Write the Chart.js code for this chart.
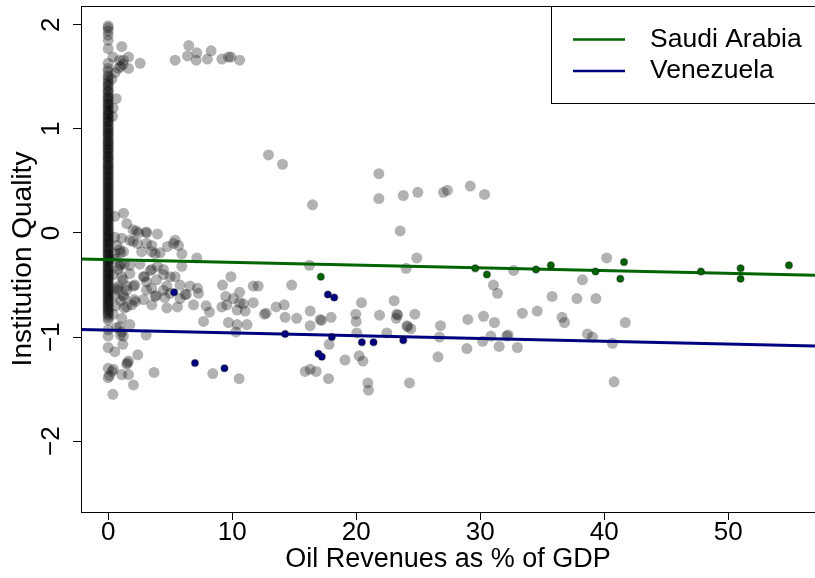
<!DOCTYPE html>
<html lang="en">
<head>
    <meta charset="UTF-8">
    <title>Institution Quality vs Oil Revenues</title>
    <script src="https://cdn.jsdelivr.net/npm/chart.js"></script>
    <style>
        html, body { margin: 0; padding: 0; background: #fff; }
        #wrap { width: 815px; height: 578px; }
    </style>
</head>
<body>
<div id="wrap"><canvas id="oilChart" width="815" height="578"></canvas></div>
<script>
    // axis limits and ticks
    const X_MIN = -2.19, X_MAX = 57.0;
    const Y_MIN = -2.68, Y_MAX = 2.18;
    const xTicks = [0, 10, 20, 30, 40, 50];
    const yTicks = [-2, -1, 0, 1, 2];

    // highlighted countries
    const countries = ['Saudi Arabia', 'Venezuela'];
    const countryColors = ['#006400', '#000080'];
    const saudiX = [17.15, 29.6, 30.54, 34.5, 35.7, 39.3, 41.6, 41.3, 47.8, 51.0, 51.0, 54.9];
    const saudiY = [-0.42, -0.34, -0.40, -0.35, -0.31, -0.37, -0.28, -0.44, -0.37, -0.34, -0.44, -0.31];
    const venezuelaX = [5.32, 7.0, 9.38, 14.27, 16.96, 17.23, 17.72, 18.23, 18.04, 20.46, 21.4, 23.8];
    const venezuelaY = [-0.57, -1.25, -1.30, -0.97, -1.16, -1.19, -0.59, -0.62, -1.0, -1.05, -1.05, -1.03];

    // fitted lines (common slope, country intercepts)
    const fitSlope = -0.00265;
    const fitIntercepts = [-0.255, -0.934];

    // countries with no oil revenue (x = 0)
    const zeroOilQuality = [
        1.99, 1.97, 1.94, 1.90, 1.85, 1.77, 1.63, 1.58, 1.55, 1.51, 1.49,
        1.462, 1.441, 1.418, 1.405, 1.377, 1.362, 1.349, 1.318, 1.306, 1.291, 1.274, 1.250,
        1.239, 1.221, 1.208, 1.183, 1.176, 1.152, 1.139, 1.127, 1.104, 1.093, 1.071, 1.066,
        1.042, 1.028, 1.011, 0.994, 0.982, 0.961, 0.947, 0.938, 0.915, 0.902, 0.884, 0.871,
        0.853, 0.846, 0.822, 0.811, 0.797, 0.776, 0.768, 0.743, 0.731, 0.719, 0.702, 0.688,
        0.667, 0.652, 0.641, 0.623, 0.610, 0.594, 0.582, 0.561, 0.548, 0.537, 0.516, 0.503,
        0.489, 0.472, 0.458, 0.443, 0.431, 0.412, 0.398, 0.387, 0.366, 0.352, 0.341, 0.322,
        0.307, 0.296, 0.278, 0.263, 0.249, 0.236, 0.218, 0.204, 0.193, 0.177, 0.158, 0.146,
        0.131, 0.117, 0.102, 0.089, 0.071, 0.058, 0.046, 0.027, 0.016, 0.003, -0.012, -0.029,
        -0.041, -0.055, -0.072, -0.086, -0.098, -0.114, -0.131, -0.143, -0.158, -0.171, -0.189,
        -0.202, -0.215, -0.233, -0.247, -0.259, -0.276, -0.288, -0.304, -0.317, -0.332, -0.346,
        -0.361, -0.378, -0.389, -0.405, -0.419, -0.433, -0.447, -0.462, -0.476, -0.491, -0.503,
        -0.518, -0.534, -0.547, -0.561, -0.577, -0.589, -0.604, -0.618, -0.633, -0.646, -0.662,
        -0.677, -0.691, -0.706, -0.722, -0.738, -0.755, -0.771, -0.79, -0.812, -0.838,
        -0.93, -0.99, -1.10, -1.30, -1.39
    ];

    // all other country-years [oil revenue %, institution quality]
    const otherPoints = [
        [0.38, 1.69], [0.91, 1.66], [1.23, 1.66], [1.64, 1.69], [1.64, 1.58], [0.83, 1.58], [0.56, 1.54],
        [0.3, 1.48], [1.1, 1.79], [2.58, 1.63], [1.2, 1.62], [1.0, 1.6], [0.65, 1.29], [0.4, 1.2], [0.35, 1.12],
        [5.4, 1.66], [6.4, 1.70], [6.5, 1.80], [7.1, 1.66], [7.15, 1.73], [8.0, 1.67], [8.3, 1.75],
        [9.17, 1.67], [9.7, 1.69], [9.9, 1.69], [10.6, 1.66],
        [12.93, 0.75], [14.06, 0.66], [16.48, 0.27], [21.83, 0.57], [21.83, 0.33], [23.8, 0.36],
        [24.97, 0.39], [27.04, 0.39], [27.36, 0.41], [29.2, 0.45], [30.35, 0.37], [23.55, 0.02],
        [1.24, 0.19], [0.54, 0.16], [1.5, 0.09], [2.0, 0.03], [2.26, 0.02], [2.45, 0.0], [3.06, 0.01],
        [3.1, 0.0], [3.97, -0.01], [5.4, -0.07], [5.67, -0.12], [5.27, -0.1], [4.78, -0.13], [1.75, -0.07],
        [2.0, -0.08], [2.36, -0.1], [1.1, -0.05], [0.54, -0.04], [0.94, -0.16], [1.24, -0.18], [1.0, -0.19],
        [3.1, -0.1], [3.52, -0.12], [3.52, -0.18], [4.19, -0.19], [3.79, -0.2], [2.7, -0.18], [0.7, -0.12],
        [5.94, -0.2], [0.91, -0.32], [1.0, -0.3], [0.8, -0.35], [7.15, -0.24], [5.94, -0.32], [3.52, -0.35],
        [3.4, -0.36], [4.46, -0.4], [5.0, -0.42], [5.4, -0.42], [2.85, -0.42], [3.9, -0.45], [3.1, -0.47],
        [3.97, -0.32], [4.46, -0.35], [1.1, -0.42], [1.5, -0.51], [2.15, -0.5], [3.1, -0.55], [3.5, -0.53],
        [3.79, -0.61], [4.46, -0.55], [4.73, -0.51], [5.8, -0.5], [6.6, -0.51], [7.2, -0.53], [5.0, -0.58],
        [6.2, -0.59], [0.7, -0.53], [0.8, -0.55],
        [0.5, -0.2], [0.6, -0.25], [1.3, -0.3], [0.4, -0.4], [1.2, -0.45], [0.5, -0.6], [1.0, -0.65],
        [0.6, -0.7], [1.3, -0.72], [0.4, -0.78], [1.1, -0.82],
        [1.75, -0.31], [2.56, -0.3], [1.75, -0.39], [2.93, -0.42], [2.04, -0.51], [1.5, -0.55], [0.83, -0.51],
        [1.23, -0.6], [1.3, -0.62], [3.87, -0.6], [4.57, -0.62], [5.8, -0.63], [6.3, -0.59], [7.28, -0.58],
        [6.88, -0.69], [5.59, -0.71], [4.73, -0.72], [3.52, -0.69], [2.85, -0.64], [2.1, -0.64], [2.2, -0.66],
        [1.9, -0.69], [1.5, -0.71], [7.9, -0.7], [8.17, -0.76], [7.69, -0.85], [9.9, -0.42], [9.22, -0.5],
        [11.7, -0.51], [12.1, -0.51], [9.48, -0.61], [10.1, -0.63], [10.6, -0.57], [9.17, -0.71], [9.57, -0.69],
        [10.6, -0.67], [10.9, -0.68], [11.7, -0.67], [10.4, -0.74], [11.05, -0.75], [9.7, -0.86], [10.4, -0.88],
        [11.2, -0.88], [10.3, -0.95], [1.75, -0.88], [0.94, -0.9], [1.0, -0.98], [1.1, -0.95], [3.06, -0.98],
        [0.67, -0.91], [1.23, -0.99], [0.54, -1.14], [1.18, -1.07], [2.39, -1.17], [1.64, -1.23], [1.5, -1.26],
        [1.55, -1.25], [0.1, -1.37], [0.3, -1.33], [0.43, -1.31], [1.1, -1.36], [1.64, -1.36], [2.04, -1.46],
        [3.7, -1.34], [0.38, -1.55], [8.44, -1.35], [10.56, -1.4],
        [24.89, -0.24], [24.03, -0.34], [16.23, -0.31], [32.7, -0.36], [14.8, -0.5], [31.07, -0.5], [31.4, -0.58],
        [20.43, -0.67], [23.06, -0.65], [13.55, -0.71], [14.2, -0.69], [12.74, -0.77], [12.6, -0.78], [14.27, -0.81],
        [15.2, -0.82], [16.29, -0.75], [17.1, -0.83], [17.2, -0.84], [16.29, -0.89], [17.98, -0.81], [19.97, -0.78],
        [20.0, -0.85], [21.88, -0.79], [23.28, -0.78], [23.35, -0.79], [23.23, -0.82], [24.73, -0.78], [24.09, -0.89],
        [24.15, -0.9], [24.41, -0.92], [26.8, -0.89], [29.0, -0.83], [30.27, -0.8], [31.15, -0.86], [33.4, -0.77],
        [34.6, -0.75], [20.05, -0.96], [22.47, -0.96], [26.72, -1.0], [17.82, -1.07], [28.93, -1.11], [30.2, -1.04],
        [30.86, -0.99], [31.53, -1.09], [32.15, -0.99], [32.25, -0.98], [33.0, -1.1], [19.1, -1.22], [20.24, -1.18],
        [20.54, -1.23], [26.6, -1.19], [15.89, -1.33], [16.29, -1.31], [16.77, -1.33], [17.77, -1.4], [20.94, -1.44],
        [20.99, -1.51], [24.3, -1.44],
        [40.2, -0.24], [38.25, -0.45], [35.8, -0.61], [37.8, -0.63], [39.33, -0.63], [36.6, -0.81], [36.8, -0.86],
        [41.7, -0.86], [38.65, -0.97], [39.06, -1.0], [40.67, -1.06], [40.8, -1.43]
    ];

    Chart.defaults.font.family = '"Liberation Sans", Arial, Helvetica, sans-serif';
    Chart.defaults.color = '#000';

    const TICK_SIZE = 26;
    const LEGEND_SIZE = 26.5;

    const toXY = (xs, ys) => xs.map((x, i) => ({ x: x, y: ys[i] }));
    const greyData = zeroOilQuality.map(y => ({ x: 0, y: y }))
        .concat(otherPoints.map(p => ({ x: p[0], y: p[1] })));
    const fitLine = b => [
        { x: X_MIN, y: b + fitSlope * X_MIN },
        { x: X_MAX, y: b + fitSlope * X_MAX }
    ];
    const minusLabel = v => (v < 0 ? '\u2212' + Math.abs(v) : String(v));

    // R style box around the plot
    const plotFrame = {
        id: 'plotFrame',
        afterDatasetsDraw(chart) {
            const { ctx, chartArea: a } = chart;
            ctx.save();
            ctx.strokeStyle = '#000';
            ctx.lineWidth = 1;
            ctx.strokeRect(a.left + 0.5, a.top + 0.5, a.right - a.left, a.bottom - a.top);
            ctx.restore();
        }
    };

    // boxed legend in the top right corner
    const boxLegend = {
        id: 'boxLegend',
        afterDraw(chart) {
            const { ctx, chartArea: a } = chart;
            const left = 551, bottom = 103;
            ctx.save();
            ctx.fillStyle = '#fff';
            ctx.fillRect(left, a.top, a.right - left, bottom - a.top);
            ctx.strokeStyle = '#000';
            ctx.lineWidth = 1;
            ctx.strokeRect(left + 0.5, a.top + 0.5, a.right - left, bottom - a.top);
            countries.forEach((name, i) => {
                const y = 39.5 + i * 31.5;
                ctx.strokeStyle = countryColors[i];
                ctx.lineWidth = 2.5;
                ctx.beginPath();
                ctx.moveTo(573, y);
                ctx.lineTo(625, y);
                ctx.stroke();
                ctx.fillStyle = '#000';
                ctx.font = LEGEND_SIZE + 'px "Liberation Sans", Arial, sans-serif';
                ctx.textBaseline = 'middle';
                ctx.textAlign = 'left';
                ctx.fillText(name, 650, y);
            });
            ctx.restore();
        }
    };

    const ctx = document.getElementById('oilChart').getContext('2d');
    new Chart(ctx, {
        type: 'scatter',
        data: {
            datasets: [
                {
                    label: 'Other',
                    data: greyData,
                    pointRadius: 5.5,
                    pointBackgroundColor: 'rgba(0,0,0,0.3)',
                    pointBorderWidth: 0,
                    order: 3
                },
                {
                    label: countries[0] + ' fit',
                    data: fitLine(fitIntercepts[0]),
                    showLine: true,
                    borderColor: countryColors[0],
                    borderWidth: 3,
                    pointRadius: 0,
                    order: 2
                },
                {
                    label: countries[1] + ' fit',
                    data: fitLine(fitIntercepts[1]),
                    showLine: true,
                    borderColor: countryColors[1],
                    borderWidth: 3,
                    pointRadius: 0,
                    order: 2
                },
                {
                    label: countries[0],
                    data: toXY(saudiX, saudiY),
                    pointRadius: 3.5,
                    pointBackgroundColor: countryColors[0],
                    pointBorderColor: 'rgba(0,0,0,0.3)',
                    pointBorderWidth: 1.5,
                    order: 1
                },
                {
                    label: countries[1],
                    data: toXY(venezuelaX, venezuelaY),
                    pointRadius: 3.5,
                    pointBackgroundColor: countryColors[1],
                    pointBorderColor: 'rgba(0,0,0,0.3)',
                    pointBorderWidth: 1.5,
                    order: 1
                }
            ]
        },
        options: {
            responsive: false,
            animation: false,
            devicePixelRatio: 1,
            layout: { autoPadding: false, padding: { top: 6, right: 0, bottom: 0, left: 0 } },
            plugins: {
                legend: { display: false },
                tooltip: { enabled: false }
            },
            scales: {
                x: {
                    type: 'linear',
                    position: 'bottom',
                    min: X_MIN,
                    max: X_MAX,
                    afterBuildTicks: s => { s.ticks = xTicks.map(v => ({ value: v })); },
                    afterFit: s => { s.height = 66; s.paddingLeft = 0; s.paddingRight = 0; },
                    border: { display: false },
                    grid: { drawOnChartArea: false, drawTicks: true, tickLength: 8, color: '#000', lineWidth: 1 },
                    ticks: {
                        maxRotation: 0,
                        padding: 0,
                        color: '#000',
                        font: { size: TICK_SIZE, lineHeight: 1 },
                        callback: v => minusLabel(v)
                    },
                    title: {
                        display: true,
                        text: 'Oil Revenues as % of GDP',
                        color: '#000',
                        font: { size: 27, lineHeight: 1.2 },
                        padding: { top: 0, bottom: 2 }
                    }
                },
                y: {
                    type: 'linear',
                    position: 'left',
                    min: Y_MIN,
                    max: Y_MAX,
                    afterBuildTicks: s => { s.ticks = yTicks.map(v => ({ value: v })); },
                    afterFit: s => { s.width = 81; s.paddingTop = 0; s.paddingBottom = 0; },
                    border: { display: false },
                    grid: { drawOnChartArea: false, drawTicks: true, tickLength: 8, color: '#000', lineWidth: 1 },
                    ticks: {
                        minRotation: 90,
                        maxRotation: 90,
                        crossAlign: 'center',
                        padding: 6,
                        color: '#000',
                        font: { size: TICK_SIZE, lineHeight: 1.2 },
                        callback: v => minusLabel(v)
                    },
                    title: {
                        display: true,
                        text: 'Institution Quality',
                        color: '#000',
                        font: { size: 28, lineHeight: 1.2 },
                        padding: { top: 6, bottom: 0 }
                    }
                }
            }
        },
        plugins: [plotFrame, boxLegend]
    });
</script>
</body>
</html>
